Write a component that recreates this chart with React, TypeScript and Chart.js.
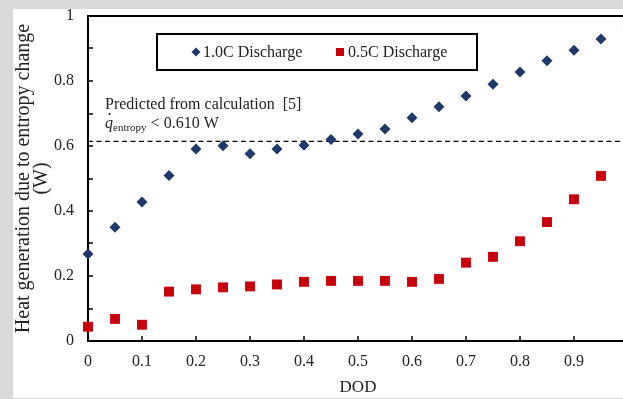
import React, { useEffect, useRef } from 'react';
import { Chart, registerables } from 'chart.js';

Chart.register(...registerables);

const DOD = [0, 0.05, 0.1, 0.15, 0.2, 0.25, 0.3, 0.35, 0.4, 0.45, 0.5, 0.55, 0.6, 0.65, 0.7, 0.75, 0.8, 0.85, 0.9, 0.95, 1.0];
const HEAT_1C = [0.268, 0.35, 0.428, 0.509, 0.591, 0.601, 0.576, 0.591, 0.602, 0.62, 0.637, 0.652, 0.687, 0.721, 0.754, 0.79, 0.828, 0.862, 0.895, 0.929, 0.967];
const HEAT_05C = [0.044, 0.068, 0.05, 0.152, 0.159, 0.165, 0.168, 0.174, 0.182, 0.185, 0.185, 0.185, 0.182, 0.191, 0.241, 0.259, 0.307, 0.366, 0.436, 0.508, 0.575];
const PREDICTED = 0.614;
const PREDICTED_X = [0, 1.05];
const SERIES_LABELS = ['1.0C Discharge', '0.5C Discharge'];
const X_TITLE = 'DOD';
const Y_TITLE = ['Heat generation due to entropy change', '(W)'];
const ANNOT_LINE1 = 'Predicted from calculation  [5]';
const ANNOT_Q = 'q';
const ANNOT_SUB = 'entropy';
const ANNOT_REST = '< 0.610 W';

const SERIF = "'Liberation Serif', 'Times New Roman', serif";
const BLUE = '#1f3a6a';
const RED = '#c8000c';

const fmt = (v: number) => {
  const r = Math.round(v * 10) / 10;
  if (r === 0) return '0';
  if (r === 1) return '1';
  return r.toFixed(1);
};

const overlayPlugin = {
  id: 'overlay',
  afterDatasetsDraw(chart: any) {
    const ctx = chart.ctx;
    const { left, right, top, bottom } = chart.chartArea;
    const xs = chart.scales.x;
    const ys = chart.scales.y;
    ctx.save();
    // inner ticks
    ctx.strokeStyle = '#000';
    ctx.lineWidth = 1.5;
    ys.ticks.forEach((_t: any, i: number) => {
      const p = Math.round(ys.getPixelForTick(i));
      ctx.beginPath();
      ctx.moveTo(left, p);
      ctx.lineTo(left + 5, p);
      ctx.stroke();
    });
    xs.ticks.forEach((_t: any, i: number) => {
      const p = Math.round(xs.getPixelForTick(i));
      ctx.beginPath();
      ctx.moveTo(p, bottom);
      ctx.lineTo(p, bottom - 5);
      ctx.stroke();
    });
    // frame top and right
    ctx.lineWidth = 2;
    ctx.beginPath();
    ctx.moveTo(left - 1, top);
    ctx.lineTo(right, top);
    ctx.lineTo(right, bottom);
    ctx.stroke();

    // legend box
    const lx = left + 69, ly = top + 18, lw = 320, lh = 36;
    ctx.fillStyle = '#fff';
    ctx.fillRect(lx, ly, lw, lh);
    ctx.lineWidth = 2;
    ctx.strokeStyle = '#000';
    ctx.strokeRect(lx, ly, lw, lh);
    const cy = ly + lh / 2;
    // diamond
    ctx.fillStyle = chart.data.datasets[0].backgroundColor;
    ctx.beginPath();
    const dx = lx + 39;
    ctx.moveTo(dx - 4.5, cy);
    ctx.lineTo(dx, cy - 4.5);
    ctx.lineTo(dx + 4.5, cy);
    ctx.lineTo(dx, cy + 4.5);
    ctx.closePath();
    ctx.fill();
    ctx.fillStyle = chart.data.datasets[1].backgroundColor;
    const sx = lx + 183;
    ctx.fillRect(sx - 4, cy - 4, 8, 8);
    ctx.fillStyle = '#222';
    ctx.font = `16px ${SERIF}`;
    ctx.textBaseline = 'middle';
    ctx.textAlign = 'left';
    ctx.fillText(chart.data.datasets[0].label, lx + 46, cy + 1);
    ctx.fillText(chart.data.datasets[1].label, lx + 191, cy + 1);

    // annotation
    const ax = left + 17;
    ctx.textBaseline = 'alphabetic';
    ctx.font = `16px ${SERIF}`;
    ctx.fillText(ANNOT_LINE1, ax, top + 93);
    ctx.font = `italic 16px ${SERIF}`;
    ctx.fillText(ANNOT_Q, ax, top + 112);
    const qw = ctx.measureText(ANNOT_Q).width;
    ctx.beginPath();
    ctx.arc(ax + qw / 2 + 0.5, top + 98, 1.1, 0, Math.PI * 2);
    ctx.fill();
    ctx.font = `11px ${SERIF}`;
    ctx.fillText(ANNOT_SUB, ax + qw, top + 115);
    const sw = ctx.measureText(ANNOT_SUB).width;
    ctx.font = `16px ${SERIF}`;
    ctx.fillText(ANNOT_REST, ax + qw + sw + 4, top + 112);
    ctx.restore();
  },
};

export default function App() {
  const ref = useRef<HTMLCanvasElement | null>(null);
  useEffect(() => {
    if (!ref.current) return;
    const chart = new Chart(ref.current, {
      type: 'scatter',
      data: {
        datasets: [
          {
            label: SERIES_LABELS[0],
            data: DOD.map((x, i) => ({ x, y: HEAT_1C[i] })),
            pointStyle: 'rectRot',
            pointRadius: 5.5,
            backgroundColor: BLUE,
            borderColor: BLUE,
            borderWidth: 0,
            clip: false as any,
          },
          {
            label: SERIES_LABELS[1],
            data: DOD.map((x, i) => ({ x, y: HEAT_05C[i] })),
            pointStyle: 'rect',
            pointRadius: 7,
            backgroundColor: RED,
            borderColor: RED,
            borderWidth: 0,
            clip: false as any,
          },
          {
            type: 'line' as any,
            label: 'predicted',
            data: PREDICTED_X.map((x) => ({ x, y: PREDICTED })),
            borderColor: '#000',
            borderWidth: 1.2,
            borderDash: [5, 3.5],
            pointRadius: 0,
            showLine: true,
            clip: false as any,
          },
        ],
      },
      options: {
        animation: false,
        responsive: false,
        maintainAspectRatio: false,
        layout: { padding: { top: 16, right: 12, left: 0, bottom: 0 } },
        plugins: { legend: { display: false }, tooltip: { enabled: false } },
        scales: {
          x: {
            type: 'linear',
            min: 0,
            max: 1,
            afterFit: (s: any) => { s.height = 58; s.paddingLeft = 0; s.paddingRight = 0; },
            grid: { display: false, drawTicks: false },
            border: { display: true, color: '#000', width: 2 },
            ticks: {
              stepSize: 0.1,
              padding: 11,
              color: '#222',
              font: { family: SERIF, size: 16 },
              callback: (v: any) => fmt(Number(v)),
            },
            title: {
              display: true,
              text: X_TITLE,
              color: '#222',
              font: { family: SERIF, size: 17, lineHeight: 1 },
              padding: { top: 0, bottom: 3 },
            },
          },
          y: {
            type: 'linear',
            min: 0,
            max: 1,
            afterFit: (s: any) => { s.width = 88; s.paddingTop = 0; s.paddingBottom = 0; },
            grid: { display: false, drawTicks: false },
            border: { display: true, color: '#000', width: 2 },
            ticks: {
              stepSize: 0.1,
              padding: 14,
              color: '#222',
              font: { family: SERIF, size: 16 },
              callback: (v: any) => {
                const n = Math.round(Number(v) * 10);
                return n % 2 === 0 ? fmt(Number(v)) : '';
              },
            },
            title: {
              display: true,
              text: Y_TITLE,
              color: '#222',
              font: { family: SERIF, size: 20, lineHeight: 0.9 },
              padding: { top: 15, bottom: 0 },
            },
          },
        },
      },
      plugins: [overlayPlugin],
    });
    return () => chart.destroy();
  }, []);

  return (
    <div style={{ position: 'absolute', left: 0, top: 0, width: 623, height: 399, overflow: 'hidden', background: '#d9d9d9' }}>
      <div style={{ position: 'absolute', left: 13, top: 9, width: 700, height: 389, background: '#fff' }} />
      <canvas ref={ref} width={640} height={399} style={{ position: 'absolute', left: 0, top: 0, width: 640, height: 399 }} />
    </div>
  );
}
